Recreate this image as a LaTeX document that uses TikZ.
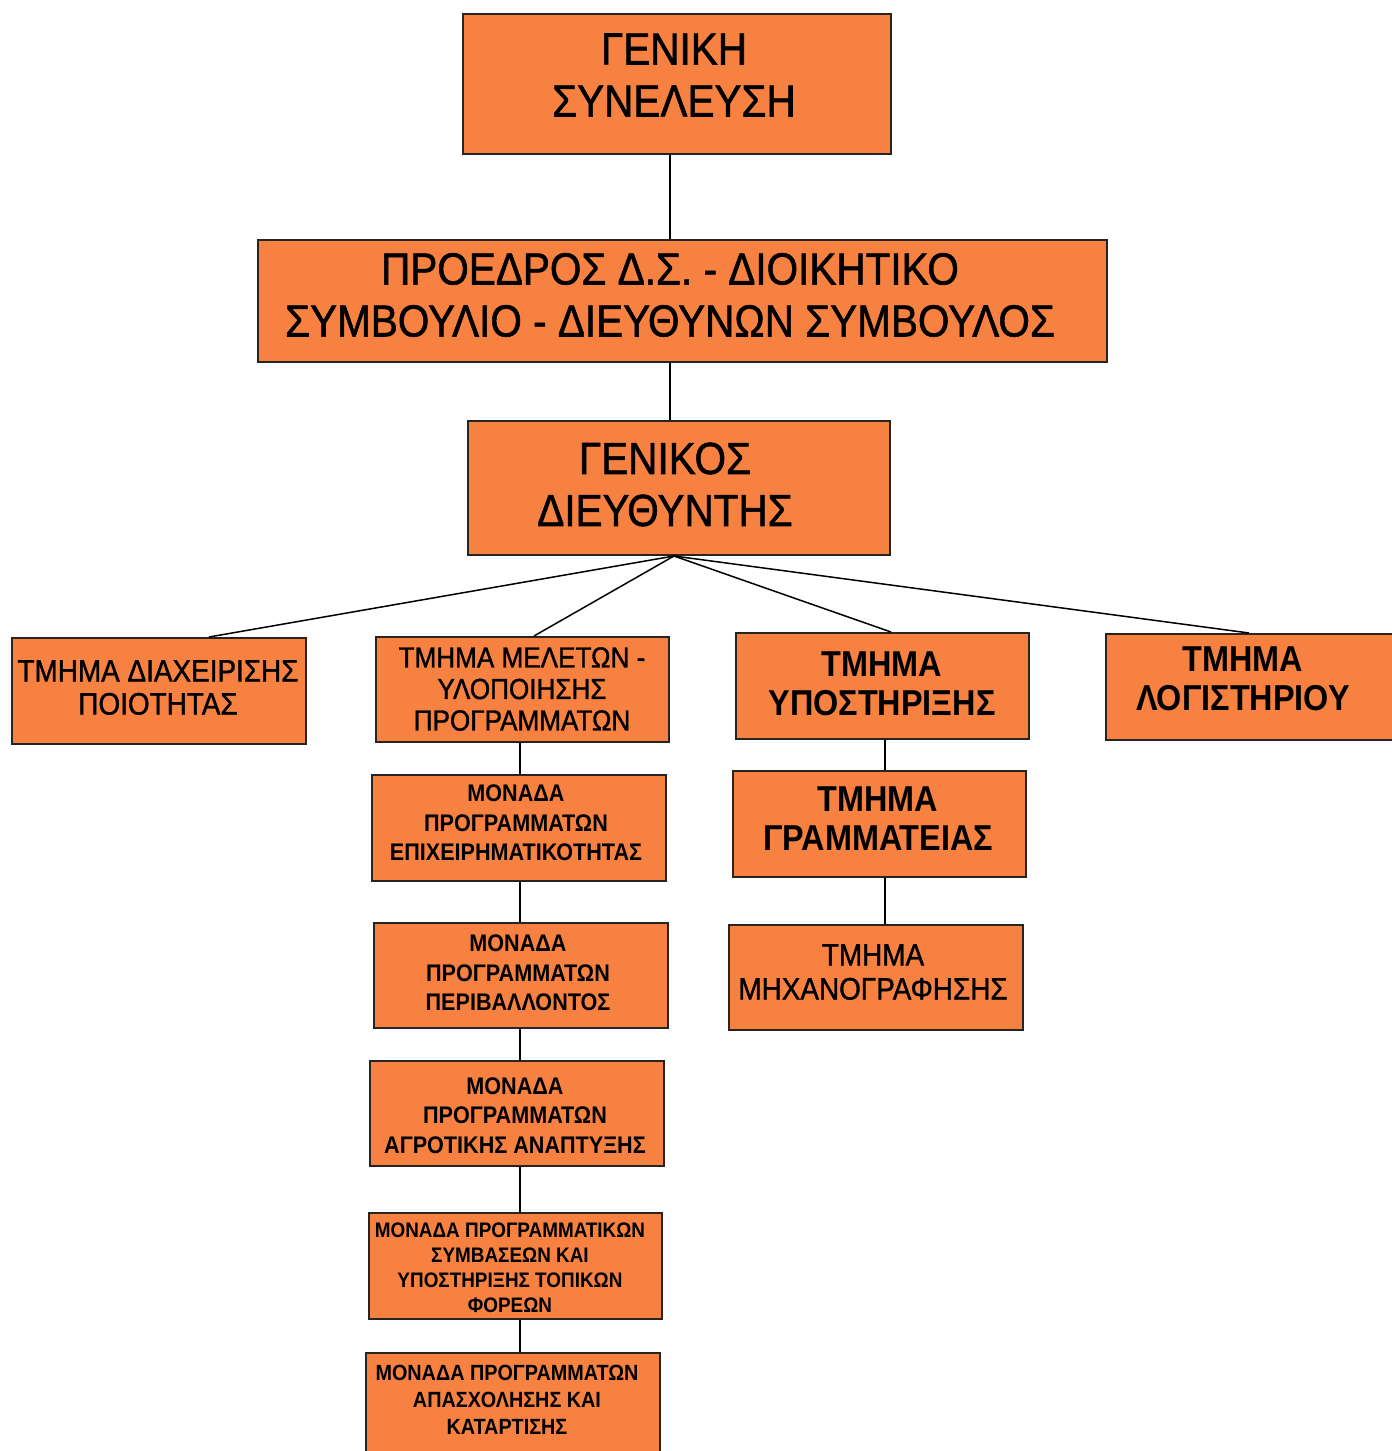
\documentclass[tikz,border=0pt]{standalone}
\usepackage{fontspec}
\setmainfont{Liberation Sans}[FakeStretch=0.9]
\newfontfamily\heavy{Liberation Sans}[FakeStretch=0.9,FakeBold=1.2]
\definecolor{org}{RGB}{247,129,64}
\definecolor{edge}{RGB}{40,36,34}
\begin{document}
\begin{tikzpicture}[x=1pt,y=-1pt,
  box/.style={draw=edge,line width=2pt,fill=org,inner sep=0pt,anchor=north west},
  txt/.style={align=center,inner sep=0pt,text=black},
  big/.style={font=\heavy\fontsize{45}{52}\selectfont},
  midr/.style={font=\heavy\fontsize{31}{33}\selectfont},
  midb/.style={font=\bfseries\fontsize{36}{39}\selectfont},
  monb/.style={font=\bfseries\fontsize{24}{29.5}\selectfont},
  conn/.style={line width=1.5pt,draw=black}]
\useasboundingbox (0,0) rectangle (1392,1451);
\clip (0,0) rectangle (1392,1451);
\fill[white] (0,0) rectangle (1392,1451);

% boxes
\node[box,minimum width=428pt,minimum height=140pt] (b1) at (462,13) {};
\node[box,minimum width=849pt,minimum height=122pt] (b2) at (257,239) {};
\node[box,minimum width=422pt,minimum height=134pt] (b3) at (467,420) {};
\node[box,minimum width=294pt,minimum height=106pt] (b4) at (11,637) {};
\node[box,minimum width=293pt,minimum height=105pt] (b5) at (375,636) {};
\node[box,minimum width=293pt,minimum height=106pt] (b6) at (735,632) {};
\node[box,minimum width=295pt,minimum height=106pt] (b7) at (1105,633) {};
\node[box,minimum width=294pt,minimum height=106pt] (b8) at (371,774) {};
\node[box,minimum width=294pt,minimum height=105pt] (b9) at (373,922) {};
\node[box,minimum width=294pt,minimum height=105pt] (b10) at (369,1060) {};
\node[box,minimum width=293pt,minimum height=106pt] (b11) at (368,1212) {};
\node[box,minimum width=294pt,minimum height=118pt] (b12) at (365,1352) {};
\node[box,minimum width=293pt,minimum height=106pt] (b13) at (732,770) {};
\node[box,minimum width=294pt,minimum height=105pt] (b14) at (728,924) {};

% texts
\node[txt,big] (t1) at (674,75) {ΓΕΝΙΚΗ\\ΣΥΝΕΛΕΥΣΗ};
\node[txt,big] (t2) at (670,295) {ΠΡΟΕΔΡΟΣ Δ.Σ. - ΔΙΟΙΚΗΤΙΚΟ\\ΣΥΜΒΟΥΛΙΟ - ΔΙΕΥΘΥΝΩΝ ΣΥΜΒΟΥΛΟΣ};
\node[txt,big] (t3) at (665,484.5) {ΓΕΝΙΚΟΣ\\ΔΙΕΥΘΥΝΤΗΣ};
\node[txt,midr] (t4) at (158,687.5) {ΤΜΗΜΑ ΔΙΑΧΕΙΡΙΣΗΣ\\ΠΟΙΟΤΗΤΑΣ};
\node[txt,font=\heavy\fontsize{29}{31.5}\selectfont] (t5) at (522,689) {ΤΜΗΜΑ ΜΕΛΕΤΩΝ -\\ΥΛΟΠΟΙΗΣΗΣ\\ΠΡΟΓΡΑΜΜΑΤΩΝ};
\node[txt,midb] (t6) at (882,684) {ΤΜΗΜΑ\\ΥΠΟΣΤΗΡΙΞΗΣ};
\node[txt,midb] (t7) at (1243,678.5) {ΤΜΗΜΑ\\ΛΟΓΙΣΤΗΡΙΟΥ};
\node[txt,monb] (t8) at (516,823) {ΜΟΝΑΔΑ\\ΠΡΟΓΡΑΜΜΑΤΩΝ\\ΕΠΙΧΕΙΡΗΜΑΤΙΚΟΤΗΤΑΣ};
\node[txt,monb] (t9) at (518,973) {ΜΟΝΑΔΑ\\ΠΡΟΓΡΑΜΜΑΤΩΝ\\ΠΕΡΙΒΑΛΛΟΝΤΟΣ};
\node[txt,monb] (t10) at (515,1115.5) {ΜΟΝΑΔΑ\\ΠΡΟΓΡΑΜΜΑΤΩΝ\\ΑΓΡΟΤΙΚΗΣ ΑΝΑΠΤΥΞΗΣ};
\node[txt,font=\bfseries\fontsize{21}{25}\selectfont] (t11) at (510,1267.5) {ΜΟΝΑΔΑ ΠΡΟΓΡΑΜΜΑΤΙΚΩΝ\\ΣΥΜΒΑΣΕΩΝ ΚΑΙ\\ΥΠΟΣΤΗΡΙΞΗΣ ΤΟΠΙΚΩΝ\\ΦΟΡΕΩΝ};
\node[txt,font=\bfseries\fontsize{22}{27}\selectfont] (t12) at (507,1400) {ΜΟΝΑΔΑ ΠΡΟΓΡΑΜΜΑΤΩΝ\\ΑΠΑΣΧΟΛΗΣΗΣ ΚΑΙ\\ΚΑΤΑΡΤΙΣΗΣ};
\node[txt,midb] (t13) at (878,819) {ΤΜΗΜΑ\\ΓΡΑΜΜΑΤΕΙΑΣ};
\node[txt,font=\heavy\fontsize{31}{34}\selectfont] (t14) at (873,972) {ΤΜΗΜΑ\\ΜΗΧΑΝΟΓΡΑΦΗΣΗΣ};

% connector guides
\coordinate (colc) at (670,0);
\coordinate (colx) at (520,0);
\coordinate (colr) at (885,0);
\coordinate (hub) at (674,556);

\draw[conn] (b1.south -| colc) -- (b2.north -| colc);
\draw[conn] (b2.south -| colc) -- (b3.north -| colc);
\draw[conn] (hub) -- ([xshift=50pt]b4.north);
\draw[conn] (hub) -- ([xshift=11.5pt]b5.north);
\draw[conn] (hub) -- ([xshift=8.5pt]b6.north);
\draw[conn] (hub) -- ([xshift=-4.5pt]b7.north);
\draw[conn] (b5.south -| colx) -- (b8.north -| colx);
\draw[conn] (b8.south -| colx) -- (b9.north -| colx);
\draw[conn] (b9.south -| colx) -- (b10.north -| colx);
\draw[conn] (b10.south -| colx) -- (b11.north -| colx);
\draw[conn] (b11.south -| colx) -- (b12.north -| colx);
\draw[conn] (b6.south -| colr) -- (b13.north -| colr);
\draw[conn] (b13.south -| colr) -- (b14.north -| colr);
\end{tikzpicture}
\end{document}
